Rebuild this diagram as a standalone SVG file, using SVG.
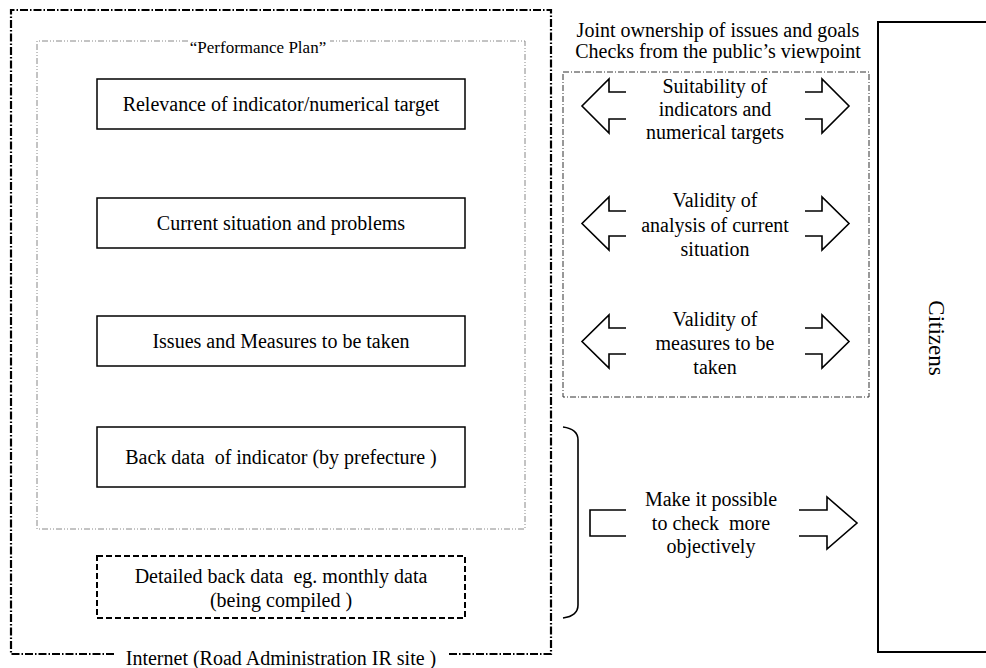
<svg xmlns="http://www.w3.org/2000/svg" width="986" height="668" viewBox="0 0 986 668">
<style>
text{font-family:"Liberation Serif","Times New Roman",serif;font-size:20px;fill:#000}
.c{text-anchor:middle}
.box{fill:#fff;stroke:#000;stroke-width:1.5}
.outer{fill:none;stroke:#000;stroke-width:2.2;stroke-dasharray:8 2 1.5 2}
.inner{fill:none;stroke:#888;stroke-width:1;stroke-dasharray:6 2 1 2 1 2}
.rbox{fill:none;stroke:#333;stroke-width:1;stroke-dasharray:6 2 1 2}
.dash{fill:#fff;stroke:#000;stroke-width:2;stroke-dasharray:6 3}
.arr{fill:none;stroke:#000;stroke-width:1.6;stroke-linejoin:miter}
</style>
<rect width="986" height="668" fill="#fff"/>
<g id="internet">
<path class="outer" d="M114 654H11V10H551V654H448"/>
<text class="c" x="281" y="665">Internet (Road Administration IR site )</text>
</g>
<g id="performance-plan">
<path class="inner" d="M188 41H37V529H525V41H330"/>
<text class="c" x="258" y="53" style="font-size:17px">“Performance Plan”</text>
</g>
<g id="relevance">
<rect class="box" x="97" y="79" width="368" height="50"/>
<text class="c" x="281" y="111">Relevance of indicator/numerical target</text>
</g>
<g id="current">
<rect class="box" x="97" y="198" width="368" height="50"/>
<text class="c" x="281" y="230">Current situation and problems</text>
</g>
<g id="issues">
<rect class="box" x="97" y="316" width="368" height="50"/>
<text class="c" x="281" y="348">Issues and Measures to be taken</text>
</g>
<g id="backdata">
<rect class="box" x="97" y="427" width="368" height="60"/>
<text class="c" x="281" y="464">Back data&#160; of indicator (by prefecture )</text>
</g>
<g id="detailed">
<rect class="dash" x="97" y="556" width="368" height="62"/>
<text class="c" x="281" y="583">Detailed back data&#160; eg. monthly data</text>
<text class="c" x="281" y="607">(being compiled )</text>
</g>
<g id="header">
<text class="c" x="718" y="37">Joint ownership of issues and goals</text>
<text class="c" x="718" y="58">Checks from the public’s viewpoint</text>
</g>
<g id="checks">
<rect class="rbox" x="563" y="72" width="306" height="325"/>
<text class="c" x="715" y="93">Suitability of</text>
<text class="c" x="715" y="116">indicators and</text>
<text class="c" x="715" y="139">numerical targets</text>
<text class="c" x="715" y="207">Validity of</text>
<text class="c" x="715" y="232">analysis of current</text>
<text class="c" x="715" y="256">situation</text>
<text class="c" x="715" y="326">Validity of</text>
<text class="c" x="715" y="350">measures to be</text>
<text class="c" x="715" y="374">taken</text>
</g>
<g id="objective">
<text class="c" x="711" y="506">Make it possible</text>
<text class="c" x="711" y="530">to check&#160; more</text>
<text class="c" x="711" y="553">objectively</text>
</g>
<g id="citizens">
<rect x="878" y="22" width="120" height="630" fill="#fff" stroke="#000" stroke-width="2"/>
<text class="c" transform="translate(929 338) rotate(90)" style="font-size:23px">Citizens</text>
</g>
<g id="connectors">
<path class="arr" d="M626 92H609V79L582 106L609 133V119H626"/>
<path class="arr" d="M805 92H822V79L849 106L822 133V119H805"/>
<path class="arr" d="M626 211H609V197L582 223.5L609 250V236H626"/>
<path class="arr" d="M805 211H822V197L849 223.5L822 250V236H805"/>
<path class="arr" d="M626 328H609V315L582 341.5L609 368V354H626"/>
<path class="arr" d="M805 328H822V315L849 341.5L822 368V354H805"/>
<path class="arr" d="M563 427Q578 429 578 440V605Q578 616 563 618"/>
<path class="arr" d="M626 510H590V536H626"/>
<path class="arr" d="M799 510H827V497L857 523L827 549V536H799"/>
</g>
</svg>
